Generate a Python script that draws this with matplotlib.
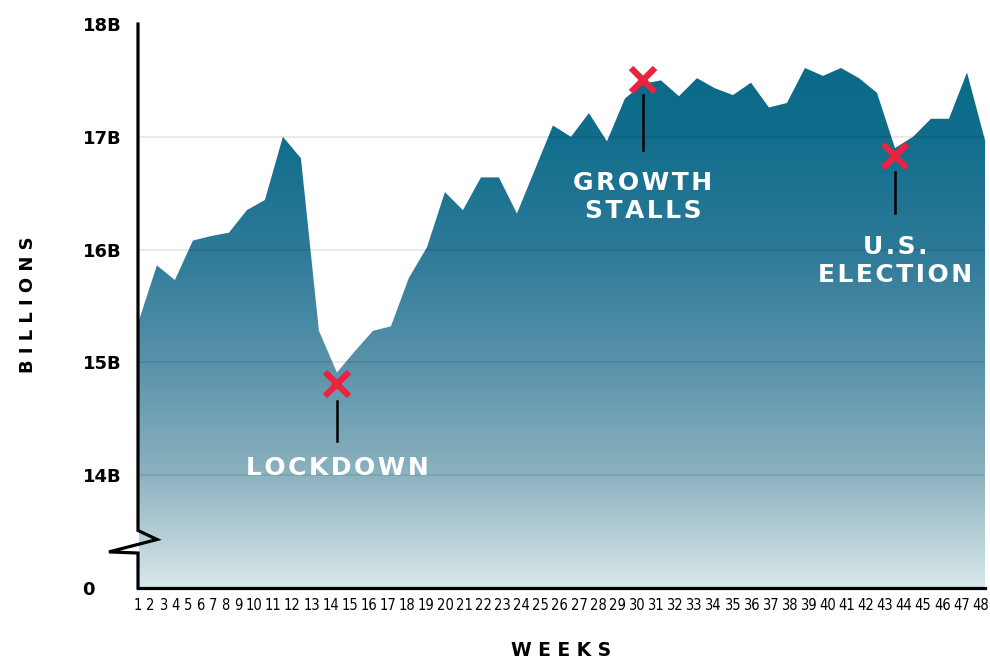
import numpy as np
import matplotlib
matplotlib.use("Agg")
import matplotlib.pyplot as plt
from matplotlib.colors import LinearSegmentedColormap
from matplotlib.patches import Polygon
from matplotlib.lines import Line2D

# weekly values, billions
weeks = list(range(1, 49))
values = [15.37, 15.86, 15.73, 16.08, 16.12, 16.15, 16.35, 16.44, 17.00, 16.81, 15.28, 14.91,
          15.10, 15.28, 15.32, 15.75, 16.02, 16.51, 16.35, 16.64, 16.64, 16.32, 16.71, 17.10,
          17.00, 17.21, 16.96, 17.34, 17.47, 17.50, 17.36, 17.52, 17.43, 17.37, 17.48, 17.26,
          17.30, 17.61, 17.54, 17.61, 17.52, 17.39, 16.90, 17.00, 17.16, 17.16, 17.57, 16.97]

week_labels = [str(w) for w in weeks]

# axis starts at 13B, which the chart labels "0" (broken axis)
y_ticks = [13, 14, 15, 16, 17, 18]
y_labels = ["0", "14B", "15B", "16B", "17B", "18B"]

# callouts
ann_weeks = [12, 29, 43]
ann_values = [14.81, 17.50, 16.83]
ann_texts = ["LOCKDOWN", "GROWTH\nSTALLS", "U.S.\nELECTION"]
ann_line = [(17, 57), (15, 70), (16, 57)]   # gap / end of the stem below the cross, px
ann_text_off = [84, 117, 105]                # text centre below the cross, px

RED = "#ea2340"
cmap = LinearSegmentedColormap.from_list("area", [
    (0.0, "#d8e8ea"), (0.2, "#8cb2c0"), (0.4, "#5892aa"),
    (0.6, "#2d7a98"), (0.8, "#106e8c"), (1.0, "#086887")])


def spaced(s, sep="\u200a"):
    # letter-spaced caps, line by line
    return "\n".join(sep.join(line) for line in s.split("\n"))


fig = plt.figure(figsize=(9.9, 6.62), dpi=100)
ax = fig.add_axes([138 / 990, 74 / 662, 847 / 990, 564 / 662])

# gradient area
grad = np.linspace(0, 1, 256).reshape(-1, 1)
im = ax.imshow(grad, extent=[1, 48, 13, 18], origin="lower", aspect="auto",
               cmap=cmap, zorder=1)
verts = np.column_stack([np.r_[weeks, weeks[::-1]], np.r_[values, [13] * len(weeks)]])
area = Polygon(verts, closed=True, facecolor="none", edgecolor="none")
ax.add_patch(area)
im.set_clip_path(area)
ax.set_xlim(1, 48)
ax.set_ylim(13, 18)

for v in y_ticks[1:-1]:
    ax.axhline(v, color="black", alpha=0.1, lw=1.2, zorder=2)

# spines: bottom plain, left drawn by hand with the break mark
for s in ["top", "right", "left"]:
    ax.spines[s].set_visible(False)
ax.spines["bottom"].set_linewidth(2.3)
ax.spines["bottom"].set_zorder(4)
left = Line2D([0, 0, 0.0225, -0.0343, 0, 0], [18, 13.51, 13.43, 13.32, 13.31, 13],
              transform=ax.get_yaxis_transform(), color="black", lw=2.3,
              clip_on=False, zorder=4, solid_joinstyle="miter")
ax.add_line(left)

# y ticks
ax.set_yticks(y_ticks, y_labels)
ax.tick_params(axis="y", length=0, pad=40)
for lbl in ax.get_yticklabels():
    lbl.set_ha("left")
    lbl.set_fontfamily("DejaVu Sans")
    lbl.set_fontweight("bold")
    lbl.set_fontsize(13)

# x tick labels sit in a row with equal gaps, spread edge to edge
widths = [len(s) for s in week_labels]
gap = 0.9
centers = [widths[0] / 2]
for a, b in zip(widths[:-1], widths[1:]):
    centers.append(centers[-1] + a / 2 + gap + b / 2)
centers = np.array(centers)
tick_pos = 0.95 + (centers - centers[0]) / (centers[-1] - centers[0]) * 46.8
ax.set_xticks(tick_pos, week_labels)
ax.tick_params(axis="x", length=0, pad=7)
for lbl in ax.get_xticklabels():
    lbl.set_fontfamily("DejaVu Sans")
    lbl.set_fontstretch("condensed")
    lbl.set_fontsize(10.5)

# callouts
ppu = ax.transData.transform((1, 14))[1] - ax.transData.transform((1, 13))[1]
for w, v, txt, (g0, g1), toff in zip(ann_weeks, ann_values, ann_texts, ann_line, ann_text_off):
    ax.plot([w, w], [v - g0 / ppu, v - g1 / ppu], color="black", lw=1.8, zorder=5)
    ax.plot(w, v, marker="x", ms=17, mew=4.5, color=RED, zorder=6)
    ax.text(w, v - toff / ppu, spaced(txt), ha="center", va="center", color="white",
            fontsize=18, fontweight="bold", family="DejaVu Sans",
            linespacing=1.2, zorder=6)

fig.text(28 / 990, 1 - 305 / 662, " ".join("BILLIONS"), rotation=90, ha="center",
         va="center", fontsize=13, fontweight="bold", family="DejaVu Sans")
fig.text(561 / 990, 1 - 651 / 662, " ".join("WEEKS"), ha="center", va="center",
         fontsize=13.5, fontweight="bold", family="DejaVu Sans")

fig.savefig("out.png", dpi=100)
